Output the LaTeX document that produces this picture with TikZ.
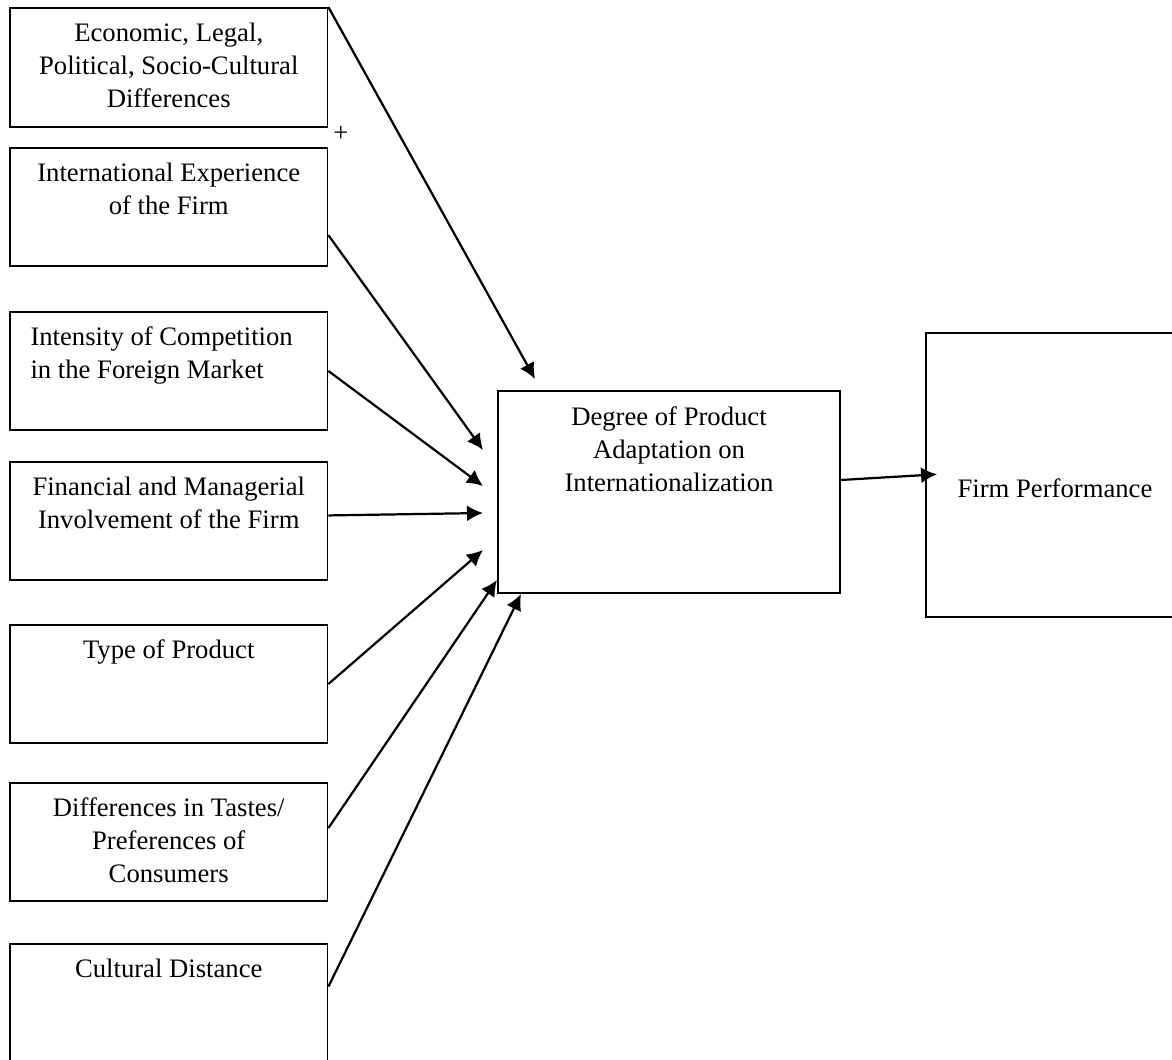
\documentclass[tikz,border=0pt]{standalone}
\usepackage{fontspec}
\setmainfont{Liberation Serif}
\usetikzlibrary{positioning,arrows.meta}

\tikzset{
  box/.style={rectangle, draw, line width=0.8pt, minimum width=142.9pt, minimum height=53.1pt, inner sep=0pt},
  txt/.style={inner sep=0pt, align=center, font=\fontsize{12}{14.9}\selectfont},
  arr/.style={line width=1pt, -{Latex[length=7.2pt,width=7.2pt]}}
}

\begin{document}
\begin{tikzpicture}[x=0.45pt, y=-0.45pt]
        \useasboundingbox (0,0) rectangle (1172,1059);

        % factors on the left
        \node (econ) [box, minimum height=53.55pt] at (168.75,67.5) {};
        \node (exper) [box] at (168.75,207) {};
        \node (compet) [box] at (168.75,371) {};
        \node (invol) [box] at (168.75,521) {};
        \node (prod) [box] at (168.75,684) {};
        \node (taste) [box] at (168.75,842) {};
        \node (cult) [box, minimum height=58.5pt] at (168.75,1009) {};

        \node (econ_t) [txt, below=6.8pt of econ.north] {Economic, Legal,\\Political, Socio-Cultural\\Differences};
        \node (exper_t) [txt, below=6.8pt of exper.north] {International Experience\\of the Firm};
        \node (compet_t) [txt, align=left, below right=6.8pt and 9.45pt of compet.north west] {Intensity of Competition\\in the Foreign Market};
        \node (invol_t) [txt, below=6.8pt of invol.north] {Financial and Managerial\\Involvement of the Firm};
        \node (prod_t) [txt, below=6.8pt of prod.north] {Type of Product};
        \node (taste_t) [txt, below=6.8pt of taste.north] {Differences in Tastes/\\Preferences of\\Consumers};
        \node (cult_t) [txt, below=6.8pt of cult.north] {Cultural Distance};

        \node (plus) [txt] at (341,134) {+};

        % centre and outcome
        \node (degree) [box, minimum width=153.9pt, minimum height=90.9pt] at (669,492) {};
        \node (degree_t) [txt, below=7.2pt of degree.north] {Degree of Product\\Adaptation on\\Internationalization};
        \node (firm) [box, minimum width=118.8pt, minimum height=127.8pt] at (1058,475) {};
        \node (firm_t) [txt] at (1055,488) {Firm Performance};

        % arrow tips
        \coordinate (tip1) at (535,379);
        \coordinate (tip2) at (483,450);
        \coordinate (tip3) at (483,486);
        \coordinate (tip4) at (483,513);
        \coordinate (tip5) at (483,550);
        \coordinate (tip6) at (497,580);
        \coordinate (tip7) at (521,594);

        \draw[arr] (econ.north east) -- (tip1);
        \draw[arr] (exper.-10.7) -- (tip2);
        \draw[arr] (compet.east) -- (tip3);
        \draw[arr] (invol.2.5) -- (tip4);
        \draw[arr] (prod.east) -- (tip5);
        \draw[arr] (taste.5) -- (tip6);
        \draw[arr] (cult.8.6) -- (tip7);
        \draw[arr, shorten >=-5.4pt] (degree.4.7) -- (firm.west);
    \end{tikzpicture}
\end{document}
